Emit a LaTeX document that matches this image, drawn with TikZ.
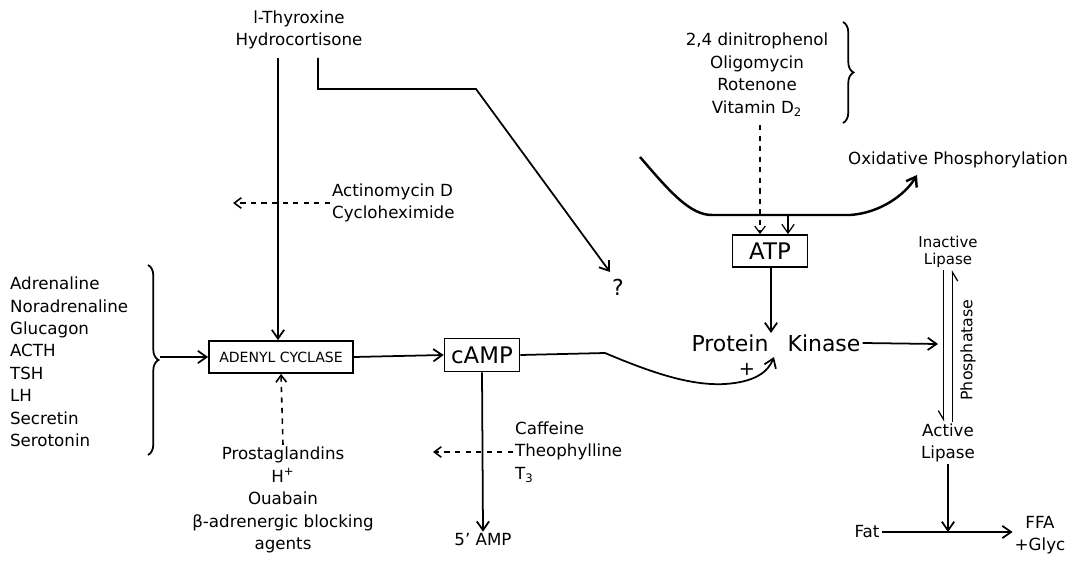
\documentclass[tikz,border=0pt]{standalone}
\usepackage{fontspec}
\setmainfont{DejaVu Sans}
\usetikzlibrary{arrows.meta,decorations.pathreplacing}
\tikzset{
  lbl/.style={inner sep=1pt, align=center, font=\fontsize{9.5}{12.8}\selectfont},
  big/.style={inner sep=1pt, font=\fontsize{12.5}{14}\selectfont},
  boxed/.style={draw, line width=1pt, inner sep=0pt},
  arr/.style={line width=1pt, -{Straight Barb[length=5pt,width=7pt]}},
  inh/.style={line width=0.9pt, dash pattern=on 3pt off 3pt, -{Straight Barb[length=4pt,width=6pt]}},
  harp/.style={line width=0.7pt, -{Straight Barb[right,length=5pt,width=6pt]}},
  brc/.style={line width=1pt, decorate, decoration={brace, mirror, amplitude=6pt}}
}
\begin{document}
\begin{tikzpicture}[x=0.02cm,y=-0.02cm]
\useasboundingbox (0,0) rectangle (1087,563);

% hormones acting on adenyl cyclase
\node[lbl] (thy) at (299,30) {l-Thyroxine\\Hydrocortisone};
\node[lbl, align=left, anchor=west] (horm) at (8,362) {Adrenaline\\Noradrenaline\\Glucagon\\ACTH\\TSH\\LH\\Secretin\\Serotonin};
\draw[brc] (148,455) -- (148,265);
\coordinate (brtip) at (160,357);

\node[boxed, minimum width=2.88cm, minimum height=0.64cm, font=\fontsize{8}{9}\selectfont] (adc) at (281,357) {ADENYL CYCLASE};
\node[boxed, minimum width=1.5cm, minimum height=0.66cm, font=\fontsize{13}{14}\selectfont] (camp) at (482,355) {cAMP};
\node[lbl] (amp5) at (483,540) {5' AMP};
\node[lbl, align=left, anchor=west] (caf) at (513,452) {Caffeine\\Theophylline\\T\textsubscript{3}};
\node[lbl] (pg) at (283,500) {Prostaglandins\\H\textsuperscript{+}\\Ouabain\\β-adrenergic blocking\\agents};
\node[lbl, align=left, anchor=west] (act) at (330,203) {Actinomycin D\\Cycloheximide};
\coordinate (actend) at (233,201);
\node[big] (q) at (618,287) {?};

% thyroxine lines
\coordinate (t1) at (278,58);
\coordinate (t2) at (318,58);
\draw[arr] (t1) -- (t1 |- adc.north);
\draw[arr] (t2) |- (476,89) -- (610,272);
\draw[inh] (act.west) -- (act.west -| actend);

\draw[arr] (brtip) -- (adc.west);
\draw[inh] (pg.north) -- (adc.south);
\draw[arr] (adc.east) -- (camp.west);
\draw[arr] (camp.south) -- (amp5.north);
\draw[inh] (caf.west) -- (433,452);

% oxidative phosphorylation
\node[lbl] (inhib) at (757,75) {2,4 dinitrophenol\\Oligomycin\\Rotenone\\Vitamin D\textsubscript{2}};
\draw[brc] (843,123) -- (843,22);
\node[lbl] (oxp) at (958,160) {Oxidative Phosphorylation};
\coordinate (oxend) at (917,175);
\draw[line width=1.4pt, -{Straight Barb[length=5pt,width=7pt]}] (640,157) .. controls (670,192) and (690,215) .. (712,215) -- (850,215) .. controls (880,213) and (905,195) .. (oxend);

\node[boxed, minimum width=1.5cm, minimum height=0.64cm, font=\fontsize{13}{14}\selectfont] (atp) at (770,251) {ATP};
\coordinate (ox1) at (760,125);
\coordinate (ox2) at (788,215);
\draw[inh, line width=0.7pt] (ox1) -- (ox1 |- atp.north);
\draw[arr, line width=0.7pt] (ox2) -- (ox2 |- atp.north);

% protein kinase
\node[big] (prot) at (730,343) {Protein};
\node[big] (kin) at (824,343) {Kinase};
\node[lbl, font=\fontsize{11}{12}\selectfont] (plus) at (747,369) {+};
\coordinate (pktop) at (771,333);
\coordinate (pktip) at (774,357);
\draw[arr] (atp.south -| pktop) -- (pktop);
\draw[arr] (camp.east) -- (605,353) .. controls (650,372) and (690,386) .. (725,384) .. controls (755,382) and (768,372) .. (pktip);

% lipase
\node[lbl, font=\fontsize{8.5}{10}\selectfont] (inl) at (948,252) {Inactive\\Lipase};
\node[lbl] (acl) at (948,443) {Active\\Lipase};
\coordinate (lipmid) at (938,344);
\draw[arr] (kin.east) -- (lipmid);
\draw[harp] ([xshift=-0.09cm]inl.south) -- ([xshift=-0.09cm]acl.north);
\draw[harp] ([xshift=0.09cm]acl.north) -- ([xshift=0.09cm]inl.south);
\node[lbl, rotate=90, font=\fontsize{9}{10}\selectfont] (phos) at (968,350) {Phosphatase};

\node[lbl] (fat) at (867,532) {Fat};
\node[lbl] (ffa) at (1040,535) {FFA\\+Glyc};
\draw[arr] (fat.east) -- (fat.east -| ffa.west);
\draw[arr] (acl.south) -- (acl.south |- fat.east);
\end{tikzpicture}
\end{document}
